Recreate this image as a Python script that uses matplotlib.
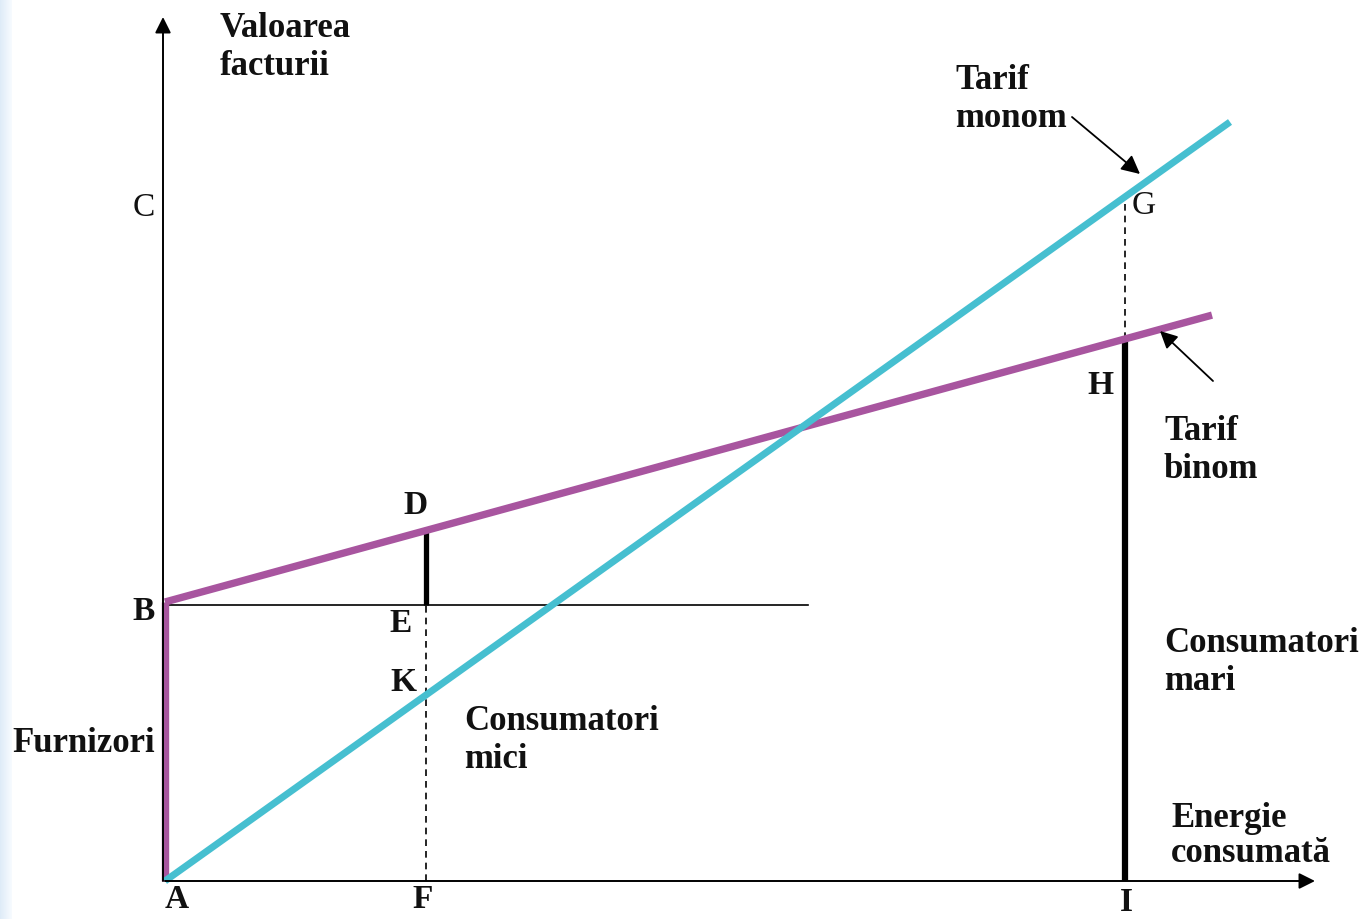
import matplotlib.pyplot as plt
import numpy as np

# logical units: origin A at (0, 0), energy on x, bill value on y
fixed_fee = 279          # AB, supplier fixed part (tarif binom)
binom_rate = 0.274       # slope of tarif binom
monom_rate = 0.7127      # slope of tarif monom
small_energy = 261       # F, consumatori mici
large_energy = 960       # I, consumatori mari
binom_end = 1047
monom_end = 1065
fee_line_end = 643
x_axis_end = 1150
y_axis_end = 864

binom_x = np.array([0, binom_end])
binom_y = fixed_fee + binom_rate * binom_x
monom_x = np.array([0, monom_end])
monom_y = monom_rate * monom_x

D_y = fixed_fee + binom_rate * small_energy
K_y = monom_rate * small_energy
G_y = monom_rate * large_energy
H_y = fixed_fee + binom_rate * large_energy

plt.rcParams['font.family'] = ['Liberation Serif', 'DejaVu Serif']

fig = plt.figure(figsize=(13.65, 9.2), dpi=100)
ax = fig.add_axes([0, 0, 1, 1])
ax.set_xlim(-165, 1200)
ax.set_ylim(-38, 882)
ax.axis('off')

# faint blue edge on the left like the scanned source
grad = np.linspace(1, 0, 40).reshape(1, -1)
ax.imshow(grad, extent=(-165, -153, -38, 882), cmap='Blues', vmin=0, vmax=8,
          aspect='auto', zorder=0)

cyan = '#46bfd0'
magenta = '#a8559f'

# axes with arrows
ax.annotate('', xy=(-2, y_axis_end), xytext=(-2, 0),
            arrowprops=dict(arrowstyle='-|>', color='black', lw=1.4,
                            mutation_scale=24, shrinkA=0, shrinkB=0))
ax.annotate('', xy=(x_axis_end, 0), xytext=(0, 0),
            arrowprops=dict(arrowstyle='-|>', color='black', lw=1.4,
                            mutation_scale=24, shrinkA=0, shrinkB=0))

# fixed fee horizontal B-E line
ax.plot([0, fee_line_end], [fixed_fee - 3, fixed_fee - 3], color='black', lw=1.2)

# dashed verticals
ax.plot([small_energy, small_energy], [0, fixed_fee - 3], color='black', lw=1.2,
        ls=(0, (4, 3)))
ax.plot([large_energy, large_energy], [H_y, G_y], color='black', lw=1.2,
        ls=(0, (4, 3)))

# black bars DE and HI
ax.plot([small_energy, small_energy], [fixed_fee - 3, D_y], color='black', lw=3.8,
        solid_capstyle='butt')
ax.plot([large_energy, large_energy], [0, H_y], color='black', lw=4.5,
        solid_capstyle='butt')

# tariffs
ax.plot([0, 0], [0, fixed_fee], color=magenta, lw=5.3, solid_capstyle='butt')
ax.plot(binom_x, binom_y, color=magenta, lw=5.3, solid_capstyle='butt')
ax.plot(monom_x, monom_y, color=cyan, lw=5, solid_capstyle='butt')

bold = dict(fontsize=25, fontweight='bold', color='#111111')
ax.text(55, 870, 'Valoarea\nfacturii', va='top', ha='left', linespacing=1.2, **bold)
ax.text(790, 818, 'Tarif\nmonom', va='top', ha='left', linespacing=1.2, **bold)
ax.text(999, 467, 'Tarif\nbinom', va='top', ha='left', linespacing=1.2, **bold)
ax.text(999, 255, 'Consumatori\nmari', va='top', ha='left', linespacing=1.2, **bold)
ax.text(1006, 80, 'Energie\nconsumată', va='top', ha='left', linespacing=1.1, **bold)
ax.text(299, 177, 'Consumatori\nmici', va='top', ha='left', linespacing=1.2, **bold)
ax.text(-153, 138, 'Furnizori', va='center', ha='left', **bold)

lab = dict(fontsize=24, fontweight='bold', color='#111111', ha='center', va='center')
ax.text(-21, 674, 'C', fontsize=24, color='#111111', ha='center', va='center')
ax.text(979, 676, 'G', fontsize=24, color='#111111', ha='center', va='center')
ax.text(-21, 271, 'B', **lab)
ax.text(251, 376, 'D', **lab)
ax.text(236, 258, 'E', **lab)
ax.text(238, 199, 'K', **lab)
ax.text(935, 496, 'H', **lab)
ax.text(12, -18, 'A', **lab)
ax.text(258, -18, 'F', **lab)
ax.text(961, -21, 'I', **lab)

# pointer arrows
ax.annotate('', xy=(975, 707), xytext=(907, 764),
            arrowprops=dict(arrowstyle='-|>', color='black', lw=1.3,
                            mutation_scale=28, shrinkA=0, shrinkB=0))
ax.annotate('', xy=(995, 550), xytext=(1048, 500),
            arrowprops=dict(arrowstyle='-|>', color='black', lw=1.3,
                            mutation_scale=26, shrinkA=0, shrinkB=0))

fig.savefig('out.png', dpi=100)
